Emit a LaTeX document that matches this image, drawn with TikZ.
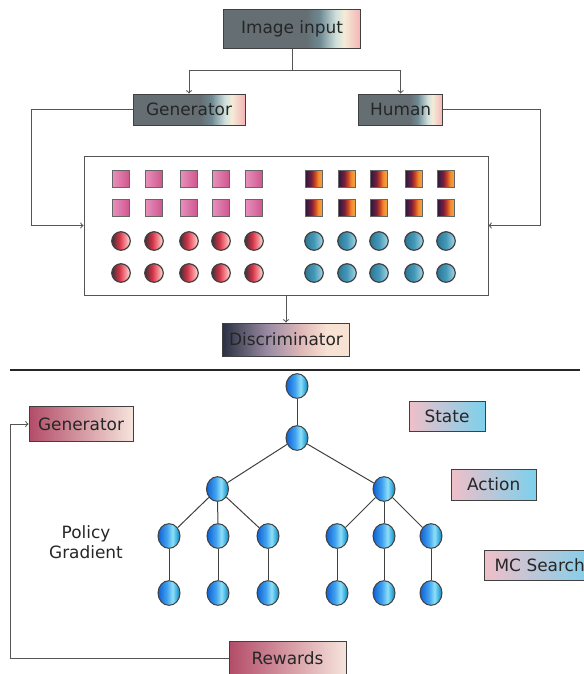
\documentclass[tikz,border=0pt]{standalone}
\usepackage{fontspec}
\setmainfont{DejaVu Sans}
\usetikzlibrary{shapes.geometric}

\definecolor{hdark}{HTML}{646E73}
\definecolor{hblue}{HTML}{6E8892}
\definecolor{hmint}{HTML}{CFE0DC}
\definecolor{hcream}{HTML}{F4ECD8}
\definecolor{hpink}{HTML}{F4B4B4}
\definecolor{dnavy}{HTML}{2B3142}
\definecolor{dmauve}{HTML}{9B8CA4}
\definecolor{drose}{HTML}{E0B8B8}
\definecolor{dpeach}{HTML}{F8E2D4}
\definecolor{rcrim}{HTML}{B34C68}
\definecolor{rpeach}{HTML}{F6E4DC}
\definecolor{spink}{HTML}{F0BFC8}
\definecolor{sblue}{HTML}{7CD0EC}
\definecolor{linegray}{HTML}{555555}
\definecolor{edgegray}{HTML}{404040}

\pgfdeclarehorizontalshading{headshade}{100bp}{color(0bp)=(hdark); color(25bp)=(hdark); color(55bp)=(hdark); color(60bp)=(hblue); color(66bp)=(hmint); color(69bp)=(hcream); color(75bp)=(hpink); color(100bp)=(hpink)}
\pgfdeclarehorizontalshading{discshade}{100bp}{color(0bp)=(dnavy); color(25bp)=(dnavy); color(43bp)=(dmauve); color(56bp)=(drose); color(66bp)=(dpeach); color(100bp)=(dpeach)}
\pgfdeclarehorizontalshading{pinksq}{100bp}{rgb(0bp)=(0.91,0.57,0.74); rgb(25bp)=(0.91,0.57,0.74); rgb(75bp)=(0.81,0.33,0.55); rgb(100bp)=(0.81,0.33,0.55)}
\pgfdeclarehorizontalshading{fluxsq}{100bp}{rgb(0bp)=(0.17,0.10,0.24); rgb(25bp)=(0.17,0.10,0.24); rgb(42bp)=(0.45,0.12,0.25); rgb(52bp)=(0.80,0.25,0.12); rgb(62bp)=(0.94,0.56,0.19); rgb(75bp)=(0.96,0.66,0.28); rgb(100bp)=(0.96,0.66,0.28)}
\pgfdeclarehorizontalshading{redball}{100bp}{rgb(0bp)=(0.25,0.19,0.23); rgb(25bp)=(0.25,0.19,0.23); rgb(45bp)=(0.82,0.20,0.27); rgb(58bp)=(0.94,0.47,0.52); rgb(75bp)=(1,0.90,0.84); rgb(100bp)=(1,0.90,0.84)}
\pgfdeclarehorizontalshading{tealball}{100bp}{rgb(0bp)=(0.17,0.46,0.58); rgb(25bp)=(0.17,0.46,0.58); rgb(50bp)=(0.27,0.60,0.72); rgb(75bp)=(0.66,0.85,0.91); rgb(100bp)=(0.66,0.85,0.91)}
\pgfdeclarehorizontalshading{treeball}{100bp}{rgb(0bp)=(0.06,0.38,0.82); rgb(25bp)=(0.06,0.38,0.82); rgb(45bp)=(0.25,0.63,0.94); rgb(58bp)=(0.56,0.88,0.97); rgb(67bp)=(0.25,0.69,0.88); rgb(75bp)=(0.09,0.50,0.69); rgb(100bp)=(0.09,0.50,0.69)}

\begin{document}
\begin{tikzpicture}[
    x=0.75pt, y=-0.75pt,
    every node/.style={font=\fontsize{12.7}{15}\selectfont, text=black!85, inner sep=0pt},
    headbox/.style={draw=edgegray, line width=0.75pt, shading=headshade, minimum height=23.25pt},
    discbox/.style={draw=edgegray, line width=0.75pt, shading=discshade, minimum width=95.25pt, minimum height=24.75pt},
    redbox/.style={draw=edgegray, line width=0.75pt, left color=rcrim, right color=rpeach, minimum height=26pt},
    tagbox/.style={draw=edgegray, line width=0.75pt, left color=spink, right color=sblue, minimum height=22.5pt},
    sq/.style={draw=edgegray!80, line width=0.9pt, minimum size=13.3pt},
    ball/.style={circle, draw=edgegray, line width=0.9pt, minimum size=13.9pt},
    treenode/.style={ellipse, draw=edgegray, line width=0.75pt, shading=treeball, minimum width=16.5pt, minimum height=18.5pt},
    arrow/.style={->, draw=linegray, line width=0.75pt},
    link/.style={draw=edgegray, line width=0.75pt}
]
\useasboundingbox (0,0) rectangle (584,674);
\clip (0,0) rectangle (584,674);

% upper part
\node[headbox, minimum width=102.75pt, minimum height=29.25pt] (img) at (292,28.8) {Image input};
\node[headbox, minimum width=84pt] (gen) at (189,109.5) {Generator};
\node[headbox, minimum width=63pt] (hum) at (400.6,109.5) {Human};
\node[draw=linegray, line width=0.75pt, minimum width=303pt, minimum height=104.25pt] (pool) at (286,225.5) {};
\node[discbox] (disc) at (286,339.5) {Discriminator};

\coordinate (split) at (292,71);
\coordinate (gl) at (31.7,225.5);
\coordinate (hr) at (540,225.5);

\draw[arrow] (img.south) -- (split) -| (gen.north);
\draw[arrow] (split) -| (hum.north);
\draw[arrow] (gen.west) -| (gl) -- (pool.west);
\draw[arrow] (hum.east) -| (hr) -- (pool.east);
\draw[arrow] (pool.south) -- (disc.north);

% samples
\foreach \x [count=\c] in {121,154,189,221,254} {
  \node[sq, shading=pinksq] (pa-\c) at (\x,179) {};
  \node[sq, shading=pinksq] (pb-\c) at (\x,208) {};
  \node[ball, shading=redball] (ra-\c) at (\x,241) {};
  \node[ball, shading=redball] (rb-\c) at (\x,273) {};
}
\foreach \x [count=\c] in {314,347,379,414,446} {
  \node[sq, shading=fluxsq] (fa-\c) at (\x,179) {};
  \node[sq, shading=fluxsq] (fb-\c) at (\x,208) {};
  \node[ball, shading=tealball] (ta-\c) at (\x,241) {};
  \node[ball, shading=tealball] (tb-\c) at (\x,273) {};
}

\draw[black!85, line width=1pt] (10,370) -- (580,370);

% lower part
\node[redbox, minimum width=78pt] (gen2) at (81,424) {Generator};
\node[redbox, minimum width=87.75pt, minimum height=25.5pt] (rew) at (287.5,658) {Rewards};
\node[tagbox, minimum width=57pt] (state) at (447,416) {State};
\node[tagbox, minimum width=63.75pt, minimum height=23.25pt] (action) at (493.7,484.5) {Action};
\node[tagbox, anchor=west, inner xsep=7.5pt, text width=68pt] (mc) at (484,565) {MC Search};
\node[align=center] (pg) at (86,542) {Policy\\Gradient};

\coordinate (lb) at (10,424);
\draw[arrow] (rew.west) -| (lb) -- (gen2.west);

% tree
\node[treenode] (t0) at (297,386) {};
\node[treenode] (t1) at (297,438) {};
\node[treenode] (t2a) at (217.5,489) {};
\node[treenode] (t2b) at (384,489) {};
\foreach \x [count=\c] in {169,218,268,337,384,431} {
  \node[treenode] (l\c) at (\x,536) {};
  \node[treenode] (m\c) at (\x,593) {};
  \draw[link] (l\c) -- (m\c);
}
\draw[link] (t0) -- (t1);
\draw[link] (t1) -- (t2a);
\draw[link] (t1) -- (t2b);
\foreach \c in {1,2,3} \draw[link] (t2a) -- (l\c);
\foreach \c in {4,5,6} \draw[link] (t2b) -- (l\c);

\end{tikzpicture}
\end{document}
